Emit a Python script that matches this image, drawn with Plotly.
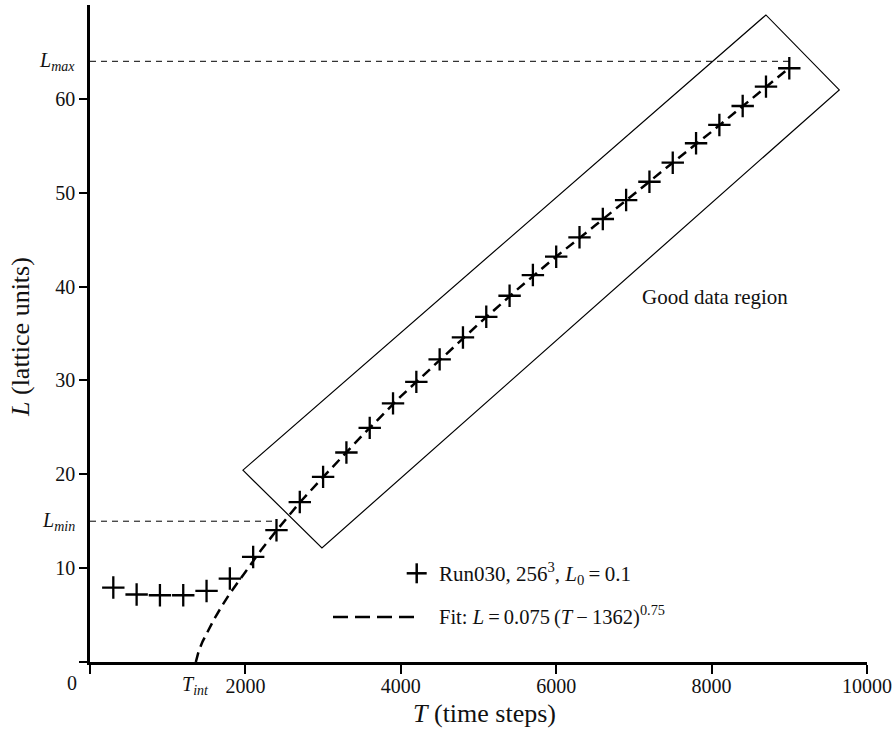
import plotly.graph_objects as go

# ---------------- data ----------------
T_run = [300, 600, 900, 1200, 1500, 1800, 2100, 2400, 2700, 3000,
         3300, 3600, 3900, 4200, 4500, 4800, 5100, 5400, 5700, 6000,
         6300, 6600, 6900, 7200, 7500, 7800, 8100, 8400, 8700, 9000]
L_run = [7.93, 7.19, 7.11, 7.11, 7.57, 8.89, 11.19, 14.04, 17.04, 19.72,
         22.32, 24.95, 27.55, 29.85, 32.24, 34.58, 36.78, 39.02, 41.23, 43.18,
         45.25, 47.20, 49.22, 51.17, 53.20, 55.27, 57.22, 59.24, 61.30, 63.26]

T_fit = [1362, 1400, 1450, 1500, 1600, 1700, 1800, 2000, 2200, 2400, 2700,
         3000, 3500, 4000, 4500, 5000, 5500, 6000, 6500, 7000, 7500, 8000,
         8500, 9000]
L_fit = [0.0, 1.2, 2.2, 3.0, 4.6, 6.0, 7.3, 9.6, 11.9, 14.0, 17.0,
         19.7, 24.1, 28.3, 32.2, 36.0, 39.7, 43.2, 46.5, 49.9, 53.2, 56.5,
         59.9, 63.3]

L_min = 15
L_max = 64
T_int = 1362
T_min_guide_end = 2350
T_max_guide_end = 9000

box_T = [1968, 2985, 9643, 8699]
box_L = [20.44, 12.15, 60.95, 68.94]

x_ticks = [0, 2000, 4000, 6000, 8000, 10000]
x_ticktext = ["", "2000", "4000", "6000", "8000", "10000"]
y_ticks = [0, 10, 20, 30, 40, 50, 60]
y_ticktext = ["", "10", "20", "30", "40", "50", "60"]

FONT = "Liberation Serif, Times New Roman, Times, DejaVu Serif, serif"
INK = "#111111"
TS = "\u2009"  # thin space

fig = go.Figure()

# fit curve (dashed)
fig.add_trace(go.Scatter(
    x=T_fit, y=L_fit, mode="lines",
    line=dict(color="black", width=2.5, dash="10px,6px"),
    showlegend=False, hoverinfo="skip"))

# run data (+ markers)
fig.add_trace(go.Scatter(
    x=T_run, y=L_run, mode="markers",
    marker=dict(symbol="cross-thin", size=16, color="black",
                line=dict(color="black", width=2.3)),
    showlegend=False))

shapes = []
shapes.append(dict(type="line", xref="x", yref="y", x0=0, x1=T_min_guide_end,
                   y0=L_min, y1=L_min, line=dict(color="black", width=1, dash="6px,5px")))
shapes.append(dict(type="line", xref="x", yref="y", x0=0, x1=T_max_guide_end,
                   y0=L_max, y1=L_max, line=dict(color="black", width=1, dash="6px,5px")))
path = "M {},{} L {},{} L {},{} L {},{} Z".format(
    box_T[0], box_L[0], box_T[1], box_L[1], box_T[2], box_L[2], box_T[3], box_L[3])
shapes.append(dict(type="path", xref="x", yref="y", path=path,
                   line=dict(color="black", width=1.2)))

W, H = 777.0, 657.0
def px(x):
    return (x - 90) / W
def py(y):
    return (662 - y) / H
cx, cy, hs = 416.7, 573.3, 10
shapes.append(dict(type="line", xref="paper", yref="paper",
                   x0=px(cx - hs), x1=px(cx + hs), y0=py(cy), y1=py(cy),
                   line=dict(color="black", width=2.5)))
shapes.append(dict(type="line", xref="paper", yref="paper",
                   x0=px(cx), x1=px(cx), y0=py(cy - hs), y1=py(cy + hs),
                   line=dict(color="black", width=2.5)))
shapes.append(dict(type="line", xref="paper", yref="paper",
                   x0=px(333), x1=px(418), y0=py(617), y1=py(617),
                   line=dict(color="black", width=2.5, dash="15px,7px")))

annotations = [
    dict(text="Run030, 256<sup>3</sup>, <i>L</i><sub>0</sub>" + TS + "=" + TS + "0.1",
         xref="paper", yref="paper",
         x=px(436.7), y=py(573), xanchor="left", yanchor="middle", showarrow=False,
         font=dict(family=FONT, size=21, color=INK)),
    dict(text="Fit: <i>L</i>" + TS + "=" + TS + "0.075" + TS + "(<i>T</i>" + TS + "\u2212" + TS + "1362)<sup>0.75</sup>",
         xref="paper", yref="paper",
         x=px(436.7), y=py(615), xanchor="left", yanchor="middle", showarrow=False,
         font=dict(family=FONT, size=20.5, color=INK)),
    dict(text="Good data region", xref="paper", yref="paper",
         x=px(715), y=py(296.7), xanchor="center", yanchor="middle", showarrow=False,
         font=dict(family=FONT, size=21, color=INK)),
    dict(text="<i>T</i> (time steps)", xref="paper", yref="paper",
         x=px(484), y=py(713), xanchor="center", yanchor="middle", showarrow=False,
         font=dict(family=FONT, size=26, color=INK)),
    dict(text="<i>L</i> (lattice units)", xref="paper", yref="paper",
         x=px(20), y=py(337), xanchor="center", yanchor="middle", showarrow=False,
         textangle=-90, font=dict(family=FONT, size=26, color=INK)),
    dict(text="0", xref="x", yref="y", x=0, y=0, xshift=-18, yshift=-21,
         xanchor="center", yanchor="middle", showarrow=False,
         font=dict(family=FONT, size=20, color=INK)),
    dict(text="<i>T<sub>int</sub></i>", xref="x", yref="y", x=T_int, y=0, yshift=-23,
         xanchor="center", yanchor="middle", showarrow=False,
         font=dict(family=FONT, size=20, color=INK)),
    dict(text="<i>L<sub>max</sub></i>", xref="x", yref="y", x=0, y=L_max, xshift=-13,
         xanchor="right", yanchor="middle", showarrow=False,
         font=dict(family=FONT, size=20, color=INK)),
    dict(text="<i>L<sub>min</sub></i>", xref="x", yref="y", x=0, y=L_min, xshift=-13,
         xanchor="right", yanchor="middle", showarrow=False,
         font=dict(family=FONT, size=20, color=INK)),
]

fig.update_layout(
    width=896, height=737,
    margin=dict(l=90, r=29, t=5, b=75),
    paper_bgcolor="white", plot_bgcolor="white",
    showlegend=False,
    shapes=shapes, annotations=annotations,
    font=dict(family=FONT, size=20, color=INK),
    xaxis=dict(range=[0, 10000], showgrid=False, zeroline=False,
               showline=True, linecolor="black", linewidth=2.5,
               ticks="outside", ticklen=9, tickwidth=1.5, tickcolor="black",
               tickvals=x_ticks, ticktext=x_ticktext, ticklabelstandoff=-5,
               tickfont=dict(family=FONT, size=20, color=INK)),
    yaxis=dict(range=[0, 70], showgrid=False, zeroline=False,
               showline=True, linecolor="black", linewidth=2.5,
               ticks="outside", ticklen=8, tickwidth=1.5, tickcolor="black",
               tickvals=y_ticks, ticktext=y_ticktext,
               tickfont=dict(family=FONT, size=20, color=INK)),
)

fig.write_html("out.html", config={"displayModeBar": False},
               post_script="document.body.style.margin='0px';")
